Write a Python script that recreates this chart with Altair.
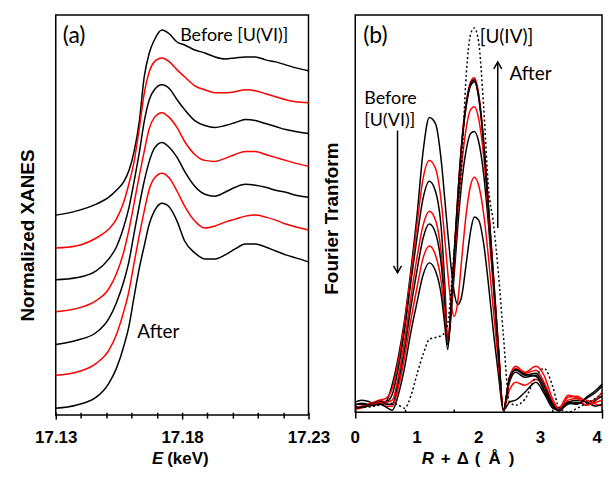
import altair as alt
import pandas as pd

# ---------------- Panel (a): XANES ----------------
E_KEV = [17.130, 17.138, 17.146, 17.151, 17.154, 17.157, 17.159, 17.161, 17.163, 17.165,
         17.167, 17.169, 17.172, 17.175, 17.178, 17.181, 17.185, 17.189, 17.193, 17.197,
         17.201, 17.205, 17.209, 17.213, 17.217, 17.221, 17.225, 17.230]

XANES_1 = [2.01, 2.05, 2.12, 2.19, 2.26, 2.35, 2.46, 2.65, 2.94, 3.40,
           3.64, 3.77, 3.87, 3.83, 3.75, 3.72, 3.67, 3.64, 3.60, 3.58,
           3.59, 3.60, 3.60, 3.57, 3.55, 3.52, 3.49, 3.46]
XANES_2 = [1.68, 1.70, 1.78, 1.87, 1.97, 2.15, 2.33, 2.55, 2.87, 3.23,
           3.45, 3.55, 3.59, 3.55, 3.47, 3.40, 3.31, 3.27, 3.24, 3.24,
           3.25, 3.27, 3.26, 3.23, 3.20, 3.17, 3.15, 3.14]
XANES_3 = [1.36, 1.38, 1.45, 1.57, 1.69, 1.90, 2.09, 2.35, 2.63, 2.95,
           3.17, 3.27, 3.32, 3.28, 3.17, 3.07, 2.96, 2.91, 2.89, 2.91,
           2.94, 2.97, 2.96, 2.93, 2.90, 2.87, 2.85, 2.83]
XANES_4 = [1.04, 1.07, 1.15, 1.27, 1.42, 1.65, 1.87, 2.13, 2.40, 2.65,
           2.88, 2.99, 3.04, 2.99, 2.89, 2.75, 2.62, 2.56, 2.55, 2.58,
           2.62, 2.65, 2.65, 2.62, 2.59, 2.56, 2.53, 2.50]
XANES_5 = [0.71, 0.75, 0.83, 0.97, 1.13, 1.35, 1.55, 1.83, 2.10, 2.35,
           2.55, 2.68, 2.74, 2.69, 2.59, 2.45, 2.30, 2.22, 2.20, 2.24,
           2.29, 2.32, 2.31, 2.29, 2.26, 2.24, 2.21, 2.19]
XANES_6 = [0.40, 0.43, 0.52, 0.65, 0.81, 1.05, 1.25, 1.53, 1.80, 2.05,
           2.27, 2.38, 2.43, 2.38, 2.25, 2.10, 1.95, 1.88, 1.90, 1.94,
           1.97, 2.00, 2.01, 1.99, 1.96, 1.92, 1.89, 1.86]
XANES_7 = [0.07, 0.10, 0.18, 0.32, 0.47, 0.70, 0.90, 1.19, 1.47, 1.70,
           1.92, 2.05, 2.13, 2.09, 1.95, 1.75, 1.63, 1.57, 1.57, 1.61,
           1.67, 1.72, 1.72, 1.69, 1.65, 1.61, 1.58, 1.54]

SERIES_COLORS = ["black", "red", "black", "red", "black", "red", "black"]
XANES = [XANES_1, XANES_2, XANES_3, XANES_4, XANES_5, XANES_6, XANES_7]

A_TICKS = [17.13, 17.14, 17.15, 17.16, 17.17, 17.18, 17.19, 17.20, 17.21, 17.22, 17.23]

# ---------------- Panel (b): Fourier transform ----------------
R_GRID = [0.0, 0.1, 0.2, 0.3, 0.4, 0.5, 0.6, 0.7, 0.8, 0.9,
          1.0, 1.1, 1.2, 1.3, 1.4, 1.45, 1.5, 1.55, 1.6, 1.66,
          1.72, 1.8, 1.87, 1.93, 2.0, 2.08, 2.16, 2.24, 2.32, 2.4,
          2.5, 2.6, 2.75, 2.93, 3.06, 3.2, 3.3, 3.45, 3.6, 3.75,
          3.9, 4.0]

FT_1 = [0.10, 0.12, 0.11, 0.09, 0.10, 0.11, 0.28, 0.56, 0.93, 1.42,
        1.97, 2.62, 2.96, 2.90, 2.49, 2.15, 1.80, 1.48, 1.22, 1.08,
        1.15, 1.50, 1.82, 1.96, 1.93, 1.70, 1.28, 0.80, 0.38, 0.02,
        0.10, 0.12, 0.20, 0.30, 0.19, 0.04, 0.02, 0.08, 0.10, 0.07,
        0.12, 0.16]
FT_2 = [0.03, 0.05, 0.07, 0.09, 0.12, 0.14, 0.24, 0.52, 0.90, 1.38,
        1.88, 2.35, 2.53, 2.45, 2.08, 1.75, 1.40, 1.10, 0.96, 1.10,
        1.50, 2.00, 2.28, 2.36, 2.28, 2.00, 1.55, 1.02, 0.50, 0.02,
        0.22, 0.30, 0.27, 0.33, 0.25, 0.08, 0.02, 0.12, 0.14, 0.12,
        0.08, 0.06]
FT_3 = [0.07, 0.09, 0.08, 0.07, 0.09, 0.10, 0.18, 0.45, 0.83, 1.30,
        1.75, 2.15, 2.32, 2.22, 1.80, 1.30, 0.68, 0.95, 1.35, 1.85,
        2.27, 2.64, 2.80, 2.82, 2.72, 2.40, 1.88, 1.25, 0.60, 0.02,
        0.30, 0.40, 0.35, 0.37, 0.22, 0.07, 0.03, 0.10, 0.09, 0.14,
        0.20, 0.26]
FT_4 = [0.05, 0.06, 0.08, 0.10, 0.12, 0.10, 0.12, 0.36, 0.72, 1.15,
        1.55, 1.88, 2.02, 1.93, 1.56, 1.18, 0.70, 1.00, 1.45, 2.00,
        2.45, 2.86, 3.04, 3.07, 2.95, 2.58, 1.98, 1.30, 0.62, 0.02,
        0.32, 0.44, 0.39, 0.42, 0.30, 0.10, 0.03, 0.15, 0.16, 0.10,
        0.13, 0.20]
FT_5 = [0.08, 0.08, 0.07, 0.09, 0.11, 0.08, 0.08, 0.30, 0.63, 1.05,
        1.42, 1.75, 1.89, 1.80, 1.45, 1.10, 0.68, 1.02, 1.52, 2.12,
        2.64, 3.08, 3.28, 3.32, 3.16, 2.70, 2.04, 1.34, 0.64, 0.02,
        0.33, 0.43, 0.37, 0.39, 0.27, 0.08, 0.01, 0.10, 0.12, 0.10,
        0.06, 0.08]
FT_6 = [0.03, 0.04, 0.06, 0.08, 0.10, 0.06, 0.06, 0.25, 0.55, 0.92,
        1.25, 1.55, 1.67, 1.58, 1.28, 0.98, 0.70, 1.05, 1.55, 2.15,
        2.68, 3.12, 3.32, 3.36, 3.20, 2.74, 2.08, 1.38, 0.68, 0.02,
        0.35, 0.46, 0.40, 0.46, 0.37, 0.13, 0.04, 0.17, 0.14, 0.07,
        0.10, 0.12]
FT_7 = [0.04, 0.05, 0.06, 0.07, 0.08, 0.05, 0.02, 0.18, 0.45, 0.80,
        1.10, 1.38, 1.50, 1.42, 1.15, 0.88, 0.63, 1.05, 1.55, 2.15,
        2.65, 3.10, 3.30, 3.34, 3.18, 2.72, 2.05, 1.35, 0.65, 0.02,
        0.35, 0.42, 0.38, 0.36, 0.22, 0.06, 0.02, 0.09, 0.08, 0.15,
        0.22, 0.28]
FT_UIV = [0.06, 0.05, 0.05, 0.06, 0.07, 0.08, 0.09, 0.07, 0.04, 0.16,
          0.38, 0.58, 0.73, 0.75, 0.77, 0.80, 0.89, 1.20, 1.60, 2.05,
          2.45, 3.40, 3.80, 3.86, 3.72, 3.08, 2.25, 1.90, 1.40, 0.78,
          0.10, 0.07, 0.13, 0.36, 0.44, 0.26, 0.05, 0.00, 0.04, 0.09,
          0.14, 0.19]
FT = [FT_1, FT_2, FT_3, FT_4, FT_5, FT_6, FT_7]

B_TICKS = [0, 0.2, 0.4, 0.6, 0.8, 1, 1.2, 1.4, 1.6, 1.8, 2, 2.2, 2.4, 2.6, 2.8, 3,
           3.2, 3.4, 3.6, 3.8, 4]
B_LABELS = [0, 1, 2, 3]
B_LAST_LABEL = [4]

# arrows in panel (b): R position, start and end intensity
ARROW_R = [0.685, 2.31]
ARROW_FROM = [2.83, 1.85]
ARROW_TO = [1.40, 3.52]

# ---------------- build tables ----------------
rows = []
for i, (ys, c) in enumerate(zip(XANES, SERIES_COLORS)):
    for e, y in zip(E_KEV, ys):
        rows.append({"E": e, "mu": y, "series": f"s{i}", "kind": c})
df_a = pd.DataFrame(rows)

rows = []
for i, (ys, c) in enumerate(zip(FT, SERIES_COLORS)):
    for r, y in zip(R_GRID, ys):
        rows.append({"R": r, "ft": y, "series": f"s{i}", "kind": c})
df_b = pd.DataFrame(rows)
df_uiv = pd.DataFrame({"R": R_GRID, "ft": FT_UIV})
df_arrow = pd.DataFrame({"R": ARROW_R, "y0": ARROW_FROM, "y1": ARROW_TO})

AXFONT = "Liberation Sans"
TXTFONT = "Lato"
color_scale = alt.Scale(domain=["black", "red"], range=["#000000", "#ff0000"])


def txt(text, x, y, size=19, style="normal", weight="normal", align="left",
        font=TXTFONT):
    return alt.Chart(pd.DataFrame({"t": [text]})).mark_text(
        font=font, fontSize=size, fontStyle=style, fontWeight=weight,
        align=align, baseline="alphabetic", color="black"
    ).encode(x=alt.value(x), y=alt.value(y), text="t:N")


a_major_test = "indexof([1713, 1718, 1723], round(datum.value * 100)) >= 0"
b_major_test = "abs(datum.value - round(datum.value)) < 0.001"

# ---- panel (a)
xa = alt.X("E:Q", scale=alt.Scale(domain=[17.13, 17.23], nice=False, zero=False),
           axis=alt.Axis(values=A_TICKS, title=None, grid=False, domain=False,
                         offset=-3,
                         tickSize={"condition": {"test": a_major_test, "value": 7}, "value": 6},
                         tickColor="black", tickWidth=1.5,
                         labelExpr=a_major_test + " ? format(datum.value, '.2f') : ''",
                         labelFont=AXFONT, labelFontSize=17, labelFontWeight="bold",
                         labelColor="black", labelPadding=11, labelFlush=False,
                         labelOverlap=False))
ya = alt.Y("mu:Q", scale=alt.Scale(domain=[0, 4.02], nice=False, zero=False),
           axis=alt.Axis(labels=False, ticks=False, domain=False, grid=False,
                         title="Normalized XANES", titleFont=AXFONT, titleFontSize=19,
                         titleFontWeight="bold", titleColor="black", titlePadding=18,
                         titleY=221))
lines_a = alt.Chart(df_a).mark_line(strokeWidth=1.5, interpolate="monotone").encode(
    x=xa, y=ya,
    color=alt.Color("kind:N", scale=color_scale, legend=None),
    detail="series:N")

panel_a = alt.layer(
    lines_a,
    txt("(a)", 7, 28, size=23),
    txt("Before [U(VI)]", 125, 26, size=18),
    txt("After", 82, 325),
    txt("E", 108, 451, size=17, style="italic", weight="bold", align="right", font=AXFONT),
    txt("(keV)", 112, 451, size=17, weight="bold", font=AXFONT),
).properties(width=254, height=402)

# ---- panel (b)
xb = alt.X("R:Q", scale=alt.Scale(domain=[0, 4], nice=False, zero=False),
           axis=alt.Axis(values=B_TICKS, title=None, grid=False, domain=False,
                         offset=-3, labels=False,
                         tickSize={"condition": {"test": b_major_test, "value": 9}, "value": 3},
                         tickColor="black", tickWidth=1.5))
yb = alt.Y("ft:Q", scale=alt.Scale(domain=[0, 3.99], nice=False, zero=False),
           axis=alt.Axis(labels=False, ticks=False, domain=False, grid=False,
                         title="Fourier Tranform", titleFont=AXFONT, titleFontSize=19,
                         titleFontWeight="bold", titleColor="black", titlePadding=14,
                         titleY=204))
lines_b = alt.Chart(df_b).mark_line(strokeWidth=1.5, interpolate="monotone").encode(
    x=xb, y=yb,
    color=alt.Color("kind:N", scale=color_scale, legend=None),
    detail="series:N")
dotted = alt.Chart(df_uiv).mark_line(strokeWidth=1.5, strokeDash=[2, 2.5], color="black",
                                     interpolate="monotone").encode(x="R:Q", y="ft:Q")
arrow_lines = alt.Chart(df_arrow).mark_rule(color="black", strokeWidth=1.5).encode(
    x="R:Q", y="y0:Q", y2="y1:Q")
head_down = alt.Chart(df_arrow.iloc[[0]]).mark_point(
    shape="M-1,-1.75L0,0L1,-1.75", filled=False, color="black", strokeWidth=1.5,
    size=64, opacity=1).encode(x="R:Q", y="y1:Q")
head_up = alt.Chart(df_arrow.iloc[[1]]).mark_point(
    shape="M-1,1.75L0,0L1,1.75", filled=False, color="black", strokeWidth=1.5,
    size=64, opacity=1).encode(x="R:Q", y="y1:Q")

tick_labels_b = alt.Chart(pd.DataFrame({"R": B_LABELS})).mark_text(
    font=AXFONT, fontSize=17, fontWeight="bold", color="black", align="center",
    baseline="alphabetic").encode(x="R:Q", y=alt.value(430), text=alt.Text("R:Q", format="d"))
tick_label_last = alt.Chart(pd.DataFrame({"R": B_LAST_LABEL})).mark_text(
    font=AXFONT, fontSize=17, fontWeight="bold", color="black", align="right",
    baseline="alphabetic").encode(x="R:Q", y=alt.value(430), text=alt.Text("R:Q", format="d"))

panel_b = alt.layer(
    lines_b, dotted, arrow_lines, head_down, head_up, tick_labels_b, tick_label_last,
    txt("(b)", 8, 28, size=23),
    txt("Before", 9, 89, size=18),
    txt("[U(VI)]", 9, 111, size=18),
    txt("[U(IV)]", 125, 28),
    txt("After", 155, 65),
    txt("R", 79, 451, size=17, style="italic", weight="bold", align="right", font=AXFONT),
    txt("+", 91, 451, size=17, weight="bold", align="center", font=AXFONT),
    txt("Δ", 108, 451, size=17, weight="bold", align="center", font=AXFONT),
    txt("(", 123, 451, size=17, weight="bold", align="center", font=AXFONT),
    txt("Å", 140, 451, size=17, weight="bold", align="center", font=AXFONT),
    txt(")", 157, 451, size=17, weight="bold", align="center", font=AXFONT),
).properties(width=248, height=399)

chart = alt.hconcat(panel_a, panel_b, spacing=47, bounds="flush").configure_view(
    stroke="black", strokeWidth=1.5
).properties(padding={"left": 10, "top": 5, "right": 0, "bottom": 0}, background="white")

chart.save("out.html", embed_options={"renderer": "svg", "actions": False})
